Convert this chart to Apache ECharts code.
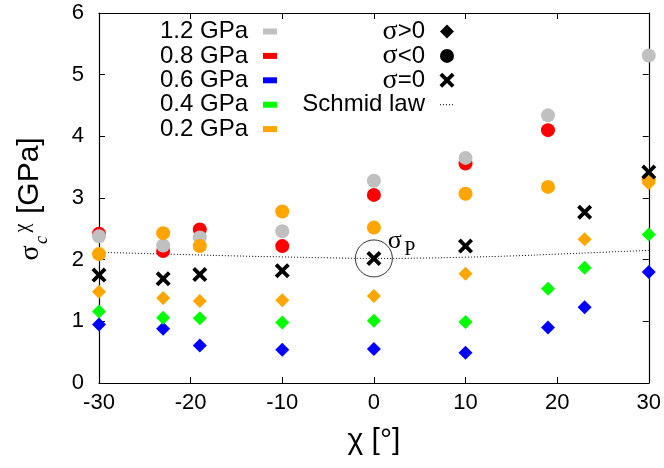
<!DOCTYPE html>
<html><head><meta charset="utf-8">
<script src="https://cdn.jsdelivr.net/npm/echarts@6/dist/echarts.min.js"></script>
<style>html,body{margin:0;padding:0;background:#fff}#c{width:664px;height:468px}</style>
</head><body><div id="c"></div>
<script>
// ---- data ----
const pressureLabels = ['1.2 GPa','0.8 GPa','0.6 GPa','0.4 GPa','0.2 GPa'];
const pressureColors = ['#c0c0c0','#ff0000','#0000ff','#00ff00','#ffa500'];
const stateLabels = ['{s|σ}>0','{s|σ}<0','{s|σ}=0','Schmid law'];
// sigma<0 (circles)
const chiGrayNeg = [-30,-23,-19,-10,0,10,19,30];
const grayNeg = [2.38,2.23,2.36,2.46,3.28,3.65,4.34,5.31];
const chiRedNeg = [-30,-23,-19,-10,0,10,19];
const redNeg = [2.42,2.14,2.49,2.22,3.05,3.56,4.10];
const chiOrangeNeg = [-30,-23,-19,-10,0,10,19,30];
const orangeNeg = [2.09,2.43,2.22,2.78,2.52,3.07,3.18,3.30];
// sigma>0 (diamonds)
const chiOrangePos = [-30,-23,-19,-10,0,10,23,30];
const orangePos = [1.48,1.38,1.33,1.34,1.41,1.77,2.33,3.24];
const chiPos = [-30,-23,-19,-10,0,10,19,23,30];
const greenPos = [1.16,1.06,1.05,0.98,1.01,0.99,1.53,1.87,2.41];
const bluePos = [0.95,0.88,0.61,0.54,0.55,0.49,0.90,1.23,1.80];
// sigma=0 (crosses)
const chiZero = [-30,-23,-19,-10,0,10,23,30];
const zeroVals = [1.75,1.69,1.76,1.82,2.02,2.22,2.77,3.42];
// Schmid law
const chiSchmid = [-30,-25,-20,-15,-10,-5,0,5,10,15,20,25,30];
const schmidVals = [2.12,2.10,2.08,2.06,2.045,2.03,2.02,2.025,2.04,2.06,2.09,2.12,2.15];
// sigma_P marker
const sigmaPPoint = [0, 2.02];

const zip = (xs, ys) => xs.map((x,i)=>[x, ys[i]]);
const XPATH = 'path://M0,1.8L1.8,0L5,3.2L8.2,0L10,1.8L6.8,5L10,8.2L8.2,10L5,6.8L1.8,10L0,8.2L3.2,5Z';
const XPOLY = [[0,1.8],[1.8,0],[5,3.2],[8.2,0],[10,1.8],[6.8,5],[10,8.2],[8.2,10],[5,6.8],[1.8,10],[0,8.2],[3.2,5]];
const SANS = 'Liberation Sans';
const SERIF = 'Liberation Serif';

const axisCommon = {
  axisLine:{show:true,onZero:false,lineStyle:{color:'#000',width:1.2}},
  axisTick:{show:true,inside:true,length:6,lineStyle:{color:'#000',width:1}},
  splitLine:{show:false}
};

const chart = echarts.init(document.getElementById('c'), null, {renderer:'canvas'});
function scatter(name, data, symbol, color, size, extra){
  return Object.assign({type:'scatter', name, data, symbol, symbolSize:size,
    itemStyle:{color, opacity:1}, emphasis:{disabled:true}, animation:false,
    xAxisIndex:0, yAxisIndex:0, clip:false}, extra||{});
}
const option = {
  animation:false,
  grid:{left:99, right:15, top:13, bottom:85, containLabel:false},
  xAxis:[
    Object.assign({type:'value', min:-30, max:30, interval:10, position:'bottom',
      axisLabel:{fontSize:22, color:'#000', fontFamily:SANS, margin:9},
      name:'χ [°]', nameLocation:'middle', nameGap:43,
      nameTextStyle:{fontSize:30, color:'#000', fontFamily:SANS}}, axisCommon),
    Object.assign({type:'value', min:-30, max:30, interval:10, position:'top',
      axisLabel:{show:false}}, axisCommon)
  ],
  yAxis:[
    Object.assign({type:'value', min:0, max:6, interval:1, position:'left',
      axisLabel:{fontSize:22, color:'#000', fontFamily:SANS, margin:15}}, axisCommon),
    Object.assign({type:'value', min:0, max:6, interval:1, position:'right',
      axisLabel:{show:false}}, axisCommon)
  ],
  series:[
    {type:'line', name:'Schmid law', data:zip(chiSchmid, schmidVals), smooth:true, showSymbol:false,
      lineStyle:{color:'#000', width:1, type:[1,2]}, animation:false, xAxisIndex:0, yAxisIndex:0, z:1},
    scatter('0.6 GPa', zip(chiPos, bluePos), 'diamond', pressureColors[2], 14),
    scatter('0.4 GPa', zip(chiPos, greenPos), 'diamond', pressureColors[3], 14),
    scatter('0.2 GPa', zip(chiOrangePos, orangePos), 'diamond', pressureColors[4], 14),
    scatter('0.8 GPa', zip(chiRedNeg, redNeg), 'circle', pressureColors[1], 14),
    scatter('1.2 GPa', zip(chiGrayNeg, grayNeg), 'circle', pressureColors[0], 14),
    scatter('0.2 GPa', zip(chiOrangeNeg, orangeNeg), 'circle', pressureColors[4], 14),
    scatter('σ=0', zip(chiZero, zeroVals), XPATH, '#000', 15),
    scatter('σP', [sigmaPPoint], 'circle', 'rgba(0,0,0,0)', 37,
      {itemStyle:{color:'rgba(0,0,0,0)', borderColor:'#000', borderWidth:1}})
  ]
};
chart.setOption(option);

// ---- legend & annotations (graphic) ----
const g = [];
const rowY0 = 31.5, rowGap = 24.4;
pressureLabels.forEach((lab,i)=>{
  const y = rowY0 + rowGap*i;
  g.push({type:'text', x:248, y:y, style:{text:lab, font:'24px '+SANS, fill:'#000', align:'right', verticalAlign:'middle'}});
  g.push({type:'rect', shape:{x:263, y:y-3, width:14, height:6}, style:{fill:pressureColors[i]}});
});
stateLabels.forEach((lab,i)=>{
  const y = rowY0 + rowGap*i;
  g.push({type:'text', x:425, y:y, style:{text:lab, font:'24px '+SANS, fill:'#000', align:'right', verticalAlign:'middle',
    rich:{s:{fontFamily:SERIF, fontSize:28, fill:'#000'}}}});
});
const sx = 447;
g.push({type:'polygon', shape:{points:[[sx,rowY0-7],[sx+7,rowY0],[sx,rowY0+7],[sx-7,rowY0]]}, style:{fill:'#000'}});
g.push({type:'circle', shape:{cx:sx, cy:rowY0+rowGap, r:7}, style:{fill:'#000'}});
g.push({type:'polygon', shape:{points:XPOLY.map(q=>[sx-7.5+q[0]*1.5, rowY0+2*rowGap-7.5+q[1]*1.5])}, style:{fill:'#000'}});
g.push({type:'line', shape:{x1:440, y1:rowY0+3*rowGap, x2:455, y2:rowY0+3*rowGap}, style:{stroke:'#000', lineWidth:1, lineDash:[1,2]}});

// y axis title: sigma_c^chi [GPa]
const rot = Math.PI/2;
g.push({type:'text', x:31, y:253, rotation:rot, style:{text:'σ', font:'28px '+SERIF, fill:'#000', align:'center', verticalAlign:'middle'}});
g.push({type:'text', x:42, y:240, rotation:rot, style:{text:'c', font:'italic 18px '+SERIF, fill:'#000', align:'center', verticalAlign:'middle'}});
g.push({type:'text', x:23, y:228, rotation:rot, style:{text:'χ', font:'20px '+SERIF, fill:'#000', align:'center', verticalAlign:'middle'}});
g.push({type:'text', x:30, y:214, rotation:rot, style:{text:'[GPa]', font:'30px '+SANS, fill:'#000', align:'left', verticalAlign:'middle'}});

// sigma_P label next to the circled point
const p = chart.convertToPixel({xAxisIndex:0, yAxisIndex:0}, sigmaPPoint);
g.push({type:'text', x:p[0]+21, y:p[1]-17, style:{text:'σ', font:'26px '+SERIF, fill:'#000', align:'center', verticalAlign:'middle'}});
g.push({type:'text', x:p[0]+36, y:p[1]-9, style:{text:'P', font:'20px '+SERIF, fill:'#000', align:'center', verticalAlign:'middle'}});

chart.setOption({graphic:g});
</script>
</body></html>
